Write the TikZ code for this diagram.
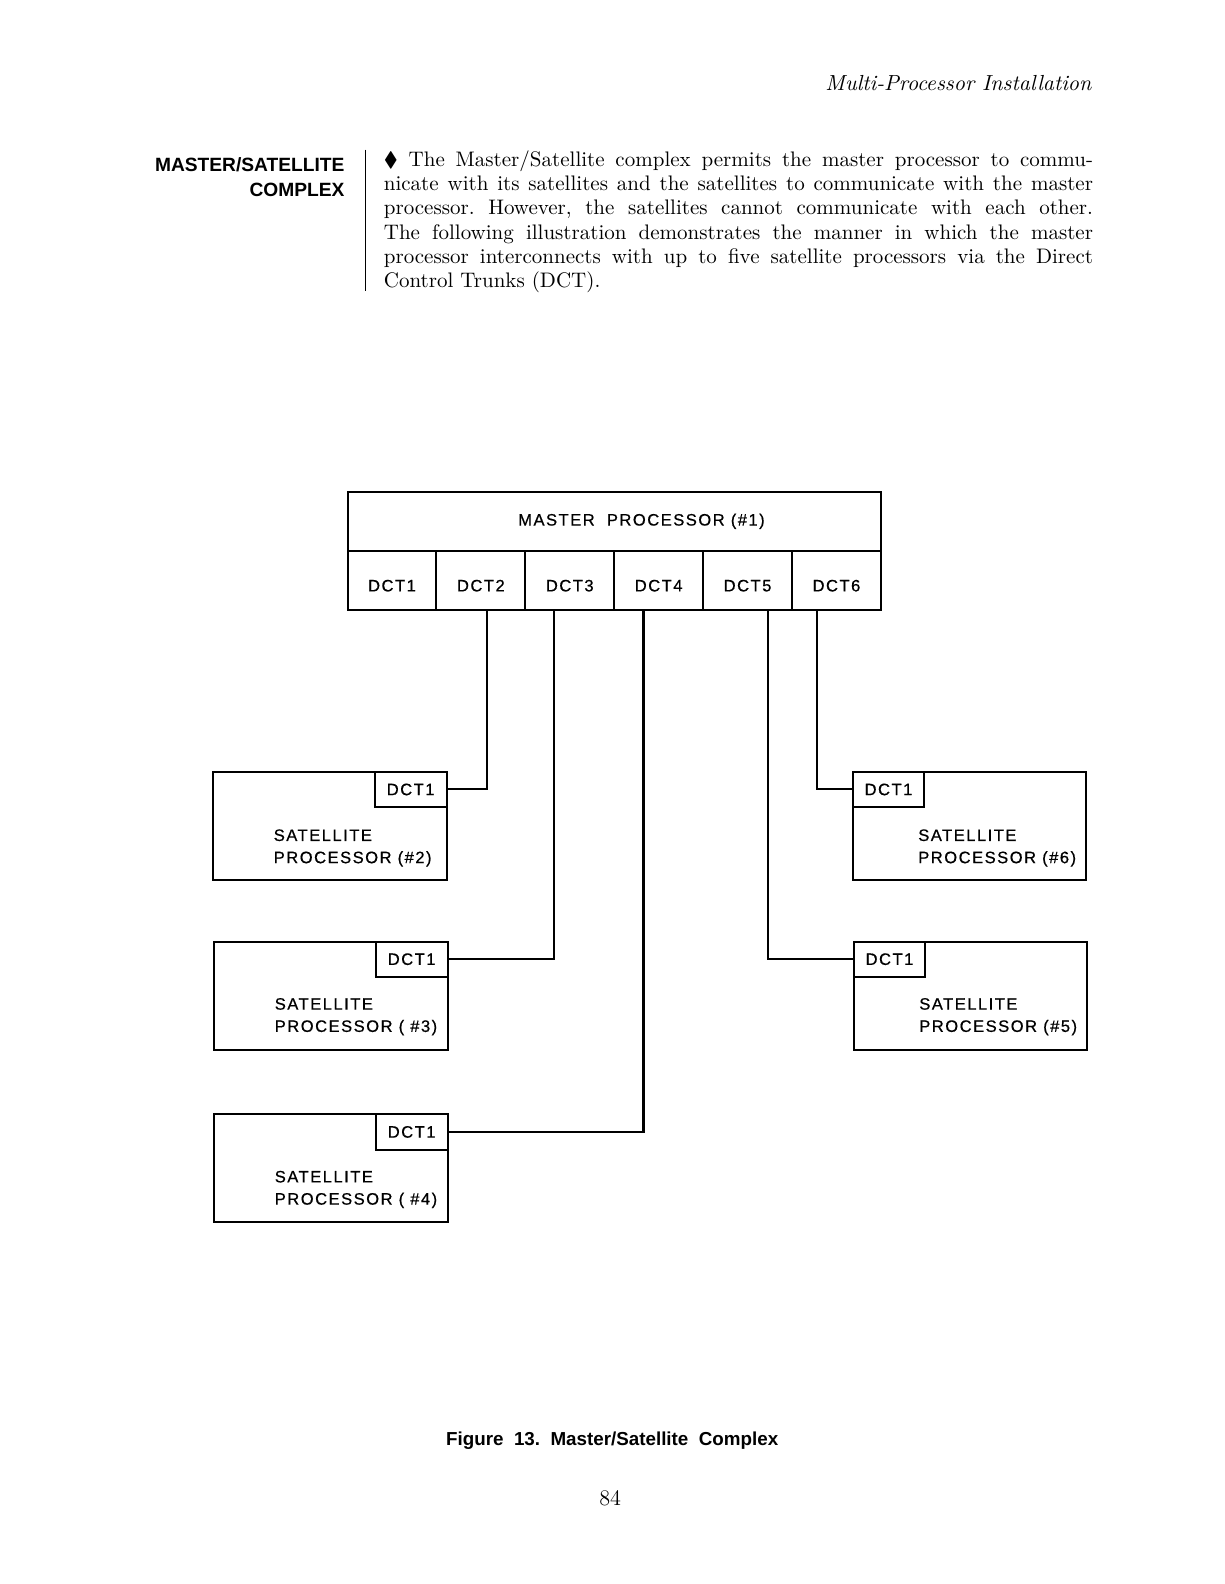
\documentclass[tikz,border=0pt]{standalone}
\usepackage{amssymb}
\usepackage{fontspec}
\usetikzlibrary{calc,positioning}
\newfontfamily\dgfont[LetterSpace=9, FakeBold=0.6]{Liberation Sans}
\newfontfamily\headfont{Liberation Sans}

\begin{document}
\begin{tikzpicture}[x=0.5pt, y=-0.5pt, line width=1pt, trunk/.style={draw, line width=1pt}, lettering/.style={font=\dgfont\fontsize{8.2}{11}\selectfont}]
% Define styles for the master, the trunk cells and the satellites
\tikzstyle{master} = [draw, rectangle, outer sep=0pt, minimum width=264pt, minimum height=29pt, lettering]
\tikzstyle{dct} = [draw, rectangle, outer sep=0pt, minimum width=44pt, minimum height=29.5pt, text height=10.9pt, text depth=0pt, lettering]
\tikzstyle{satellite} = [draw, rectangle, outer sep=0pt, minimum width=115.5pt, minimum height=53.5pt]
\tikzstyle{port} = [draw, rectangle, outer sep=0pt, minimum width=35.5pt, minimum height=17.5pt, lettering]
\tikzstyle{sattext} = [align=left, anchor=north west, inner sep=0pt, lettering]

\useasboundingbox (0,0) rectangle (1212,1568);

% Page text
\node [anchor=base east, font=\itshape\fontsize{10.8}{12}\selectfont] (running) at (1088,90) {Multi-Processor\ Installation};
\node [anchor=north east, align=right, inner sep=0pt, font=\headfont\bfseries\fontsize{9.5}{12.5}\selectfont] (topic) at (342,155) {MASTER/SATELLITE\\COMPLEX};
\coordinate (ruletop) at (362,148);
\coordinate (rulebot) at (362,288);
\draw[line width=0.6pt] (ruletop) -- (rulebot);
\node [anchor=north west, text width=351pt, align=justify, inner sep=0pt, font=\frenchspacing\fontsize{10.4}{12}\selectfont] (body) at (379,148) {$\blacklozenge$\ The Master/Satellite complex permits the master processor to commu-\linebreak nicate with its satellites and the satellites to communicate with the master\linebreak processor. However, the satellites cannot communicate with each other.\linebreak The following illustration demonstrates the manner in which the master\linebreak processor interconnects with up to five satellite processors via the Direct\linebreak Control Trunks (DCT).};

% Master processor and its trunks
\node [master, anchor=north west] (master) at (344,487) {\hspace*{27pt}MASTER\ \ PROCESSOR (\#1)};
\node [dct, anchor=north west] (dct1) at (master.south west) {DCT1};
\foreach \i [count=\j] in {2,...,6}
  \node [dct, right=0pt of dct\j] (dct\i) {DCT\i};

% Satellites on the left
\node [satellite, anchor=north west] (sat2) at (211,764) {};
\node [port, anchor=north east] (port2) at (sat2.north east) {DCT1};
\node [sattext] (text2) at ($(sat2.north west)+(59,56)$) {SATELLITE\\PROCESSOR (\#2)};

\node [satellite, anchor=north west] (sat3) at (212,932) {};
\node [port, anchor=north east] (port3) at (sat3.north east) {DCT1};
\node [sattext] (text3) at ($(sat3.north west)+(59,55)$) {SATELLITE\\PROCESSOR ( \#3)};

\node [satellite, anchor=north west] (sat4) at (212,1103) {};
\node [port, anchor=north east] (port4) at (sat4.north east) {DCT1};
\node [sattext] (text4) at ($(sat4.north west)+(59,55)$) {SATELLITE\\PROCESSOR ( \#4)};

% Satellites on the right
\node [satellite, anchor=north west] (sat6) at (844,764) {};
\node [port, anchor=north west] (port6) at (sat6.north west) {DCT1};
\node [sattext] (text6) at ($(sat6.north west)+(64,56)$) {SATELLITE\\PROCESSOR (\#6)};

\node [satellite, anchor=north west] (sat5) at (845,932) {};
\node [port, anchor=north west] (port5) at (sat5.north west) {DCT1};
\node [sattext] (text5) at ($(sat5.north west)+(64,55)$) {SATELLITE\\PROCESSOR (\#5)};

% Draw trunks
\draw[trunk] ($(dct2.south)+(6.5,0)$) |- (port2.east);
\draw[trunk] ($(dct3.south)+(-16,0)$) |- (port3.east);
\draw[trunk] ($(dct4.south)+(-15,0)$) |- (port4.east);
\draw[trunk] ($(dct5.south)+(20.5,0)$) |- (port5.west);
\draw[trunk] ($(dct6.south)+(-19,0)$) |- (port6.west);

% Caption and page number
\node [anchor=base, font=\headfont\bfseries\fontsize{9.3}{12}\selectfont] (caption) at (606,1431) {Figure\ \ 13.\ \ Master/Satellite\ \ Complex};
\node [anchor=base, font=\fontsize{11}{12}\selectfont] (pagenum) at (604,1490) {84};
\end{tikzpicture}
\end{document}
